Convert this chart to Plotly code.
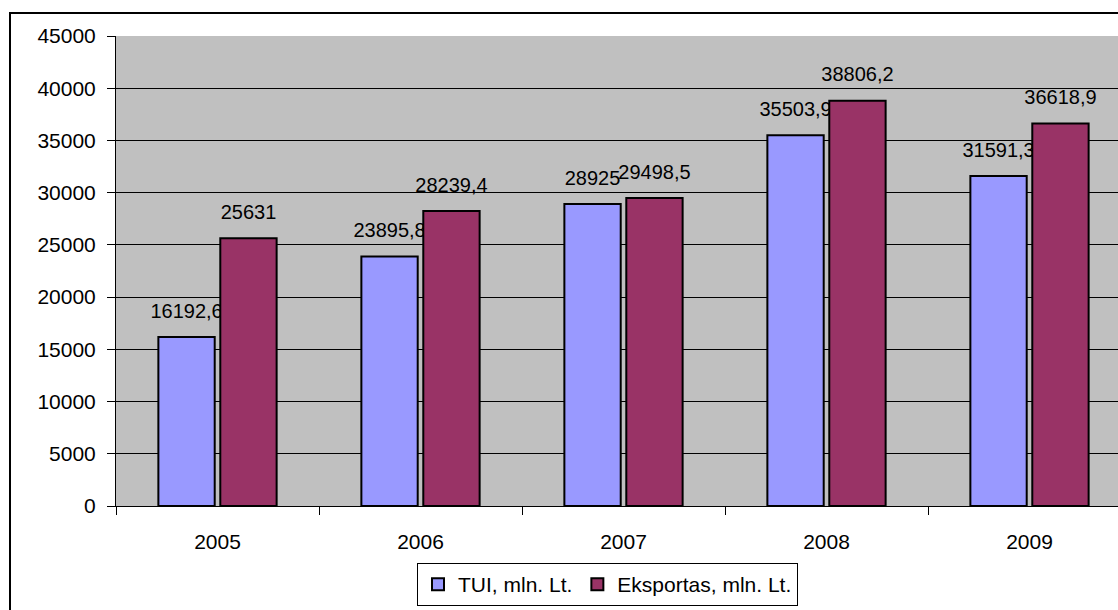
import plotly.graph_objects as go

years = ["2005", "2006", "2007", "2008", "2009"]
tui = [16192.6, 23895.8, 28925, 35503.9, 31591.3]
eksportas = [25631, 28239.4, 29498.5, 38806.2, 36618.9]
series_names = ["TUI, mln. Lt.", "Eksportas, mln. Lt."]
y_ticks = [0, 5000, 10000, 15000, 20000, 25000, 30000, 35000, 40000, 45000]


def fmt(v):
    s = ("%g" % v)
    return s.replace(".", ",")


FAM = "Liberation Sans, Arial, sans-serif"
tick_font = dict(family=FAM, size=21, color="black")
leg_font = dict(family=FAM, size=21, color="black")

fig = go.Figure()
for name, vals, color in [(series_names[0], tui, "#9999FF"), (series_names[1], eksportas, "#993366")]:
    fig.add_trace(go.Bar(
        x=years, y=vals, name=name,
        marker=dict(color=color, line=dict(color="black", width=2)),
        text=["<span style='font-size:20px'>" + fmt(v) + "</span><br> " for v in vals],
        textposition="outside", textfont=dict(family=FAM, size=11, color="black"),
        constraintext="none", cliponaxis=False,
    ))

W, H = 1118, 610
L = 116
T = 36
bottom = 506
B = H - bottom
pw = W - L
ph = bottom - T
band = 203
xmax = -0.5 + pw / band

fig.update_layout(
    width=W, height=H,
    margin=dict(l=L, r=0, t=T, b=B, pad=0),
    paper_bgcolor="white", plot_bgcolor="#C0C0C0",
    barmode="group", bargap=0.39, bargroupgap=0.09,
    font=tick_font,
    showlegend=True,
    legend=dict(orientation="h", x=(417 - L) / pw, xanchor="left",
                y=-(563 - bottom) / ph, yanchor="top",
                bordercolor="black", borderwidth=1, bgcolor="white",
                font=leg_font, traceorder="normal"),
    xaxis=dict(range=[-0.5, xmax], showgrid=False, ticks="outside", tickson="boundaries",
               ticklen=8, tickcolor="black", showline=True, linecolor="black", linewidth=1,
               tickfont=tick_font, ticklabelstandoff=17),
    yaxis=dict(range=[0, 45000], tickvals=y_ticks, ticktext=[str(v) for v in y_ticks],
               ticks="outside", ticklen=8,
               tickcolor="black", showline=True, linecolor="black", linewidth=1,
               showgrid=True, gridcolor="black", gridwidth=1, zeroline=False,
               tickfont=tick_font, ticklabelstandoff=7),
    shapes=[dict(type="rect", xref="paper", yref="paper",
                 x0=(10 - L) / pw, x1=1.02, y0=-(H + 5 - bottom) / ph,
                 y1=(bottom - 13) / ph,
                 line=dict(color="black", width=2), fillcolor="rgba(0,0,0,0)", layer="above")],
)

fig.write_html(
    "out.html",
    config={"displayModeBar": False},
    post_script="document.body.style.margin='0';document.body.style.overflow='hidden';",
)
